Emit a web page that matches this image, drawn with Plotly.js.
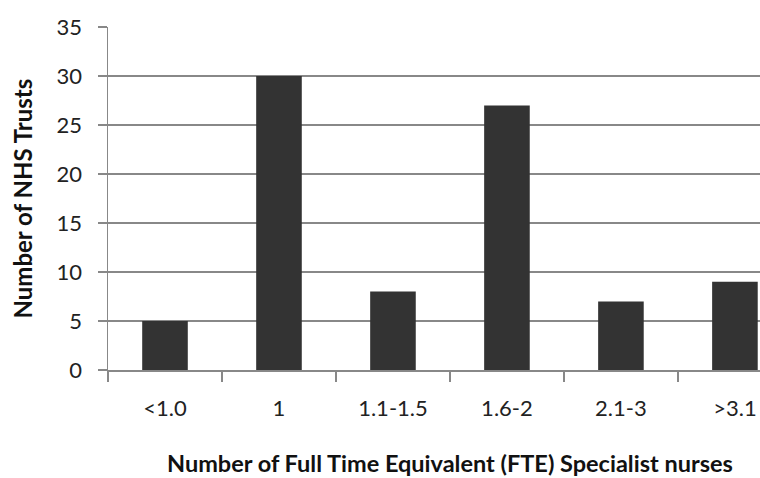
<!DOCTYPE html>
<html><head><meta charset="utf-8">
<script src="https://cdn.plot.ly/plotly-3.0.1.min.js"></script>
<style>html,body{margin:0;padding:0;overflow:hidden;background:#fff}</style>
</head><body>
<div id="chart" style="width:760px;height:478px"></div>
<script>
const categories = ["<1.0", "1", "1.1-1.5", "1.6-2", "2.1-3", ">3.1"];
const trustCounts = [5, 30, 8, 27, 7, 9];
const yTickValues = [0, 5, 10, 15, 20, 25, 30, 35];
const xTitle = "Number of Full Time Equivalent (FTE) Specialist nurses";
const yTitle = "Number of NHS Trusts";

const font = "Lato, 'Liberation Sans', sans-serif";
const trace = {
  type: "bar",
  x: categories,
  y: trustCounts,
  width: 0.4,
  marker: {color: "#333333", line: {width: 0}},
  hoverinfo: "x+y"
};
const layout = {
  width: 760, height: 478,
  margin: {l: 108, r: 0, t: 27, b: 108},
  paper_bgcolor: "#ffffff", plot_bgcolor: "#ffffff",
  showlegend: false,
  font: {family: font, size: 22, color: "#222222"},
  xaxis: {
    type: "category",
    range: [-0.5, 5.22],
    tickson: "boundaries",
    ticks: "outside", ticklen: 10, tickcolor: "#888888", tickwidth: 1.5,
    ticklabelstandoff: 18,
    showline: true, linecolor: "#888888", linewidth: 1.5,
    showgrid: false, zeroline: false,
    tickfont: {family: font, size: 22, color: "#222222"}
  },
  yaxis: {
    range: [0, 35],
    tickvals: yTickValues,
    ticks: "outside", ticklen: 9, tickcolor: "#888888", tickwidth: 1.5,
    ticklabelstandoff: 11,
    showline: true, linecolor: "#888888", linewidth: 1.5,
    showgrid: true, gridcolor: "#888888", gridwidth: 1.5,
    zeroline: false,
    tickfont: {family: font, size: 22, color: "#222222"}
  },
  annotations: [
    {text: "<b>" + xTitle + "</b>", xref: "x", yref: "paper", x: 2.5, y: 0,
     yshift: -93, showarrow: false, xanchor: "center", yanchor: "middle",
     font: {family: font, size: 23.5, color: "#111111"}},
    {text: "<b>" + yTitle + "</b>", xref: "paper", yref: "paper", x: 0, y: 0.5,
     xshift: -86, showarrow: false, textangle: -90, xanchor: "center", yanchor: "middle",
     font: {family: font, size: 24, color: "#111111"}}
  ]
};
Plotly.newPlot("chart", [trace], layout, {displayModeBar: false, staticPlot: true});
</script>
</body></html>
